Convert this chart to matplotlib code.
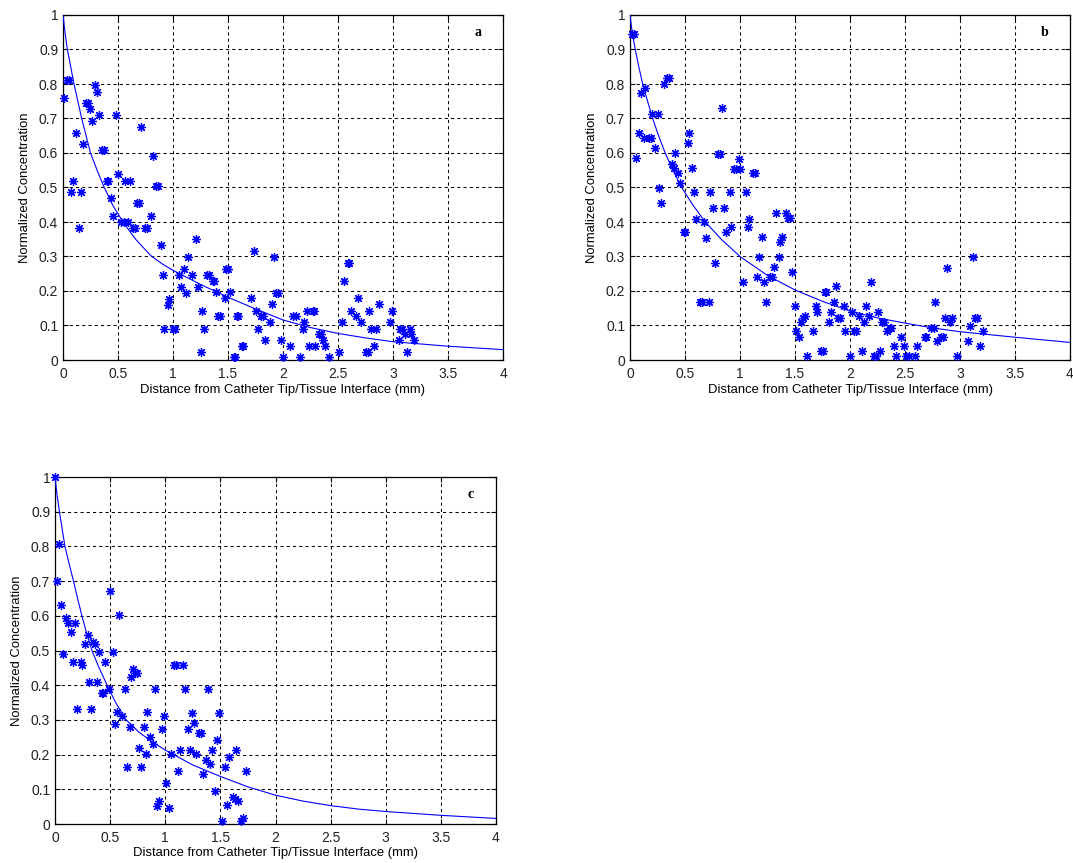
import matplotlib
matplotlib.use("Agg")
import matplotlib.pyplot as plt

plt.rcParams["font.family"] = ["Liberation Sans", "DejaVu Sans"]

# ---------------- panel a ----------------
a_x = [0.01, 0.04, 0.058, 0.076, 0.094, 0.118, 0.145, 0.16, 0.179, 0.212,
       0.228, 0.245, 0.264, 0.288, 0.31, 0.33, 0.35, 0.37, 0.397, 0.412,
       0.44, 0.457, 0.479, 0.50, 0.53, 0.55, 0.564, 0.59, 0.606, 0.64,
       0.655, 0.676, 0.69, 0.706, 0.742, 0.767, 0.80, 0.82, 0.845, 0.86,
       0.888, 0.905, 0.92, 0.95, 0.967, 1.0, 1.015, 1.05, 1.075, 1.10,
       1.12, 1.14, 1.17, 1.205, 1.225, 1.25, 1.267, 1.285, 1.31, 1.33,
       1.36, 1.37, 1.39, 1.41, 1.43, 1.47, 1.48, 1.50, 1.52, 1.55,
       1.56, 1.58, 1.595, 1.625, 1.64, 1.705, 1.735, 1.75, 1.775, 1.80,
       1.815, 1.835, 1.885, 1.90, 1.92, 1.94, 1.955, 1.98, 2.0, 2.065,
       2.095, 2.12, 2.15, 2.18, 2.195, 2.22, 2.235, 2.27, 2.28, 2.29,
       2.33, 2.345, 2.36, 2.385, 2.415, 2.51, 2.54, 2.55, 2.59, 2.60,
       2.62, 2.66, 2.68, 2.705, 2.75, 2.77, 2.785, 2.80, 2.83, 2.845,
       2.87, 2.97, 2.99, 3.05, 3.065, 3.08, 3.11, 3.125, 3.15, 3.165, 3.195]
a_y = [0.76, 0.812, 0.812, 0.487, 0.519, 0.658, 0.382, 0.487, 0.625, 0.746,
       0.746, 0.728, 0.693, 0.796, 0.778, 0.71, 0.608, 0.608, 0.52, 0.52,
       0.47, 0.417, 0.71, 0.538, 0.40, 0.40, 0.519, 0.40, 0.519, 0.382,
       0.382, 0.454, 0.454, 0.676, 0.382, 0.382, 0.417, 0.59, 0.505, 0.505,
       0.332, 0.247, 0.091, 0.16, 0.178, 0.091, 0.091, 0.247, 0.213, 0.264,
       0.194, 0.298, 0.247, 0.351, 0.212, 0.024, 0.142, 0.091, 0.247, 0.247,
       0.23, 0.23, 0.196, 0.128, 0.128, 0.18, 0.264, 0.264, 0.196, 0.008,
       0.008, 0.128, 0.128, 0.04, 0.04, 0.18, 0.315, 0.143, 0.091, 0.128,
       0.128, 0.058, 0.109, 0.161, 0.298, 0.195, 0.195, 0.058, 0.008, 0.04,
       0.128, 0.128, 0.008, 0.091, 0.109, 0.142, 0.04, 0.142, 0.142, 0.04,
       0.075, 0.075, 0.058, 0.04, 0.008, 0.024, 0.109, 0.23, 0.28, 0.28,
       0.142, 0.128, 0.18, 0.109, 0.024, 0.024, 0.142, 0.091, 0.04, 0.091,
       0.161, 0.109, 0.142, 0.058, 0.091, 0.091, 0.075, 0.024, 0.091, 0.075, 0.058]
a_fit_x = [0, 0.02, 0.04, 0.07, 0.10, 0.135, 0.17, 0.21, 0.25, 0.31, 0.375,
           0.45, 0.545, 0.66, 0.80, 0.90, 1.0, 1.25, 1.5, 1.75, 2.0, 2.25,
           2.5, 2.75, 3.0, 3.5, 4.0]
a_fit_y = [1.0, 0.945, 0.90, 0.85, 0.80, 0.75, 0.70, 0.65, 0.60, 0.55, 0.50,
           0.45, 0.40, 0.35, 0.302, 0.279, 0.26, 0.219, 0.182, 0.148, 0.116, 0.094,
           0.077, 0.064, 0.053, 0.040, 0.030]

# ---------------- panel b ----------------
b_x = [0.02, 0.035, 0.055, 0.085, 0.10, 0.124, 0.14, 0.17, 0.188, 0.20,
       0.23, 0.25, 0.26, 0.285, 0.312, 0.336, 0.35, 0.38, 0.397, 0.41,
       0.433, 0.45, 0.487, 0.50, 0.524, 0.54, 0.56, 0.58, 0.603, 0.635,
       0.65, 0.676, 0.69, 0.717, 0.73, 0.758, 0.77, 0.80, 0.818, 0.84,
       0.855, 0.876, 0.906, 0.92, 0.942, 0.96, 0.988, 1.003, 1.028, 1.05,
       1.073, 1.085, 1.115, 1.135, 1.15, 1.175, 1.198, 1.22, 1.24, 1.27,
       1.29, 1.307, 1.325, 1.35, 1.368, 1.386, 1.416, 1.437, 1.452, 1.473,
       1.50, 1.513, 1.534, 1.552, 1.573, 1.595, 1.613, 1.664, 1.69, 1.70,
       1.734, 1.752, 1.77, 1.785, 1.81, 1.83, 1.85, 1.873, 1.895, 1.913,
       1.943, 1.958, 1.997, 2.02, 2.04, 2.057, 2.08, 2.11, 2.124, 2.142,
       2.172, 2.193, 2.218, 2.233, 2.254, 2.275, 2.293, 2.312, 2.336, 2.36,
       2.375, 2.40, 2.42, 2.463, 2.487, 2.51, 2.535, 2.587, 2.61, 2.678,
       2.693, 2.738, 2.76, 2.777, 2.795, 2.83, 2.844, 2.86, 2.88, 2.905,
       2.928, 2.97, 3.07, 3.09, 3.116, 3.14, 3.156, 3.183, 3.207]
b_y = [0.944, 0.944, 0.586, 0.658, 0.773, 0.643, 0.788, 0.643, 0.643, 0.713,
       0.615, 0.713, 0.499, 0.456, 0.80, 0.816, 0.816, 0.569, 0.556, 0.60,
       0.542, 0.513, 0.372, 0.372, 0.629, 0.658, 0.557, 0.486, 0.41, 0.168,
       0.168, 0.40, 0.355, 0.168, 0.486, 0.44, 0.28, 0.598, 0.598, 0.73,
       0.44, 0.372, 0.486, 0.385, 0.555, 0.555, 0.584, 0.555, 0.226, 0.486,
       0.385, 0.41, 0.543, 0.543, 0.242, 0.298, 0.356, 0.226, 0.168, 0.242,
       0.242, 0.27, 0.427, 0.298, 0.341, 0.356, 0.427, 0.413, 0.413, 0.255,
       0.157, 0.085, 0.068, 0.11, 0.123, 0.128, 0.011, 0.085, 0.157, 0.14,
       0.027, 0.027, 0.198, 0.198, 0.11, 0.14, 0.168, 0.214, 0.123, 0.123,
       0.157, 0.085, 0.011, 0.14, 0.085, 0.085, 0.128, 0.027, 0.109, 0.157,
       0.128, 0.226, 0.011, 0.011, 0.14, 0.027, 0.11, 0.11, 0.085, 0.094,
       0.094, 0.04, 0.011, 0.068, 0.04, 0.011, 0.011, 0.011, 0.04, 0.068,
       0.068, 0.094, 0.094, 0.168, 0.054, 0.068, 0.068, 0.123, 0.267, 0.11,
       0.123, 0.011, 0.054, 0.099, 0.298, 0.123, 0.123, 0.04, 0.085]
b_fit_x = [0, 0.02, 0.048, 0.08, 0.115, 0.16, 0.206, 0.26, 0.32, 0.39, 0.47,
           0.57, 0.685, 0.83, 1.0, 1.25, 1.5, 1.75, 2.0, 2.25, 2.5, 2.75,
           3.0, 3.5, 4.0]
b_fit_y = [1.0, 0.95, 0.90, 0.85, 0.80, 0.75, 0.70, 0.65, 0.60, 0.55, 0.50,
           0.45, 0.40, 0.35, 0.30, 0.245, 0.203, 0.17, 0.142, 0.122, 0.107,
           0.093, 0.082, 0.066, 0.051]

# ---------------- panel c ----------------
c_x = [0.0, 0.018, 0.037, 0.055, 0.076, 0.098, 0.122, 0.143, 0.159, 0.183,
       0.204, 0.232, 0.244, 0.268, 0.30, 0.311, 0.326, 0.345, 0.36, 0.381,
       0.396, 0.427, 0.436, 0.457, 0.488, 0.497, 0.527, 0.548, 0.564, 0.585,
       0.604, 0.634, 0.657, 0.676, 0.686, 0.705, 0.722, 0.74, 0.764, 0.776,
       0.804, 0.823, 0.838, 0.864, 0.889, 0.909, 0.923, 0.945, 0.97, 0.99,
       1.007, 1.033, 1.055, 1.077, 1.095, 1.117, 1.133, 1.158, 1.183, 1.202,
       1.22, 1.246, 1.264, 1.283, 1.308, 1.327, 1.346, 1.368, 1.39, 1.408,
       1.427, 1.455, 1.47, 1.49, 1.515, 1.54, 1.556, 1.574, 1.615, 1.634,
       1.643, 1.66, 1.69, 1.706, 1.73]
c_y = [1.0, 0.70, 0.808, 0.63, 0.489, 0.595, 0.58, 0.552, 0.466, 0.58,
       0.331, 0.466, 0.458, 0.518, 0.545, 0.408, 0.331, 0.525, 0.518, 0.408,
       0.497, 0.378, 0.378, 0.466, 0.39, 0.671, 0.495, 0.287, 0.322, 0.602,
       0.31, 0.39, 0.163, 0.28, 0.425, 0.446, 0.434, 0.436, 0.22, 0.163,
       0.28, 0.202, 0.322, 0.252, 0.23, 0.39, 0.053, 0.065, 0.273, 0.312,
       0.117, 0.045, 0.202, 0.457, 0.457, 0.154, 0.213, 0.457, 0.388, 0.273,
       0.213, 0.319, 0.29, 0.202, 0.261, 0.261, 0.144, 0.184, 0.388, 0.173,
       0.213, 0.096, 0.242, 0.319, 0.01, 0.163, 0.055, 0.194, 0.077, 0.071,
       0.213, 0.065, 0.01, 0.016, 0.154]
c_fit_x = [0, 0.02, 0.04, 0.065, 0.09, 0.128, 0.168, 0.205, 0.244, 0.287,
           0.335, 0.40, 0.473, 0.55, 0.646, 0.76, 0.88, 1.0, 1.25, 1.5, 1.75,
           2.0, 2.25, 2.5, 2.75, 3.0, 3.5, 4.0]
c_fit_y = [1.0, 0.945, 0.90, 0.85, 0.80, 0.75, 0.70, 0.65, 0.60, 0.55, 0.50,
           0.45, 0.40, 0.35, 0.30, 0.265, 0.237, 0.213, 0.17, 0.137, 0.107,
           0.083, 0.066, 0.053, 0.043, 0.036, 0.025, 0.016]

x_ticks = [0, 0.5, 1, 1.5, 2, 2.5, 3, 3.5, 4]
x_tick_labels = ["0", "0.5", "1", "1.5", "2", "2.5", "3", "3.5", "4"]
y_ticks = [0, 0.1, 0.2, 0.3, 0.4, 0.5, 0.6, 0.7, 0.8, 0.9, 1]
y_tick_labels = ["0", "0.1", "0.2", "0.3", "0.4", "0.5", "0.6", "0.7", "0.8", "0.9", "1"]

x_label = "Distance from Catheter Tip/Tissue Interface (mm)"
y_label = "Normalized Concentration"

W, H = 1073, 863
fig = plt.figure(figsize=(W / 100, H / 100), dpi=100)
fig.patch.set_facecolor("white")


def px_axes(left, right, top, bottom):
    return fig.add_axes([left / W, 1 - bottom / H, (right - left) / W, (bottom - top) / H])


asterisk = (8, 2, 0)


def draw_panel(ax, xs, ys, fx, fy, letter):
    ax.set_xlim(0, 4)
    ax.set_ylim(0, 1)
    ax.set_xticks(x_ticks)
    ax.set_xticklabels(x_tick_labels)
    ax.set_yticks(y_ticks)
    ax.set_yticklabels(y_tick_labels)
    ax.tick_params(direction="in", length=3.6, width=0.8, top=True, right=True,
                   labelsize=10, colors="black", labelcolor="#222222")
    ax.tick_params(axis="x", pad=5)
    ax.tick_params(axis="y", pad=3.5)
    ax.grid(True, color="black", linestyle=(0, (3.0, 3.0)), linewidth=0.75)
    ax.set_axisbelow(True)
    for s in ax.spines.values():
        s.set_color("black")
        s.set_linewidth(0.9)
    ax.plot(fx, fy, color="#0000ff", linewidth=0.8, zorder=3)
    ax.plot(xs, ys, linestyle="none", marker=asterisk, markersize=6.5,
            markeredgewidth=0.9, color="#0000ff", zorder=4, clip_on=False)
    ax.set_xlabel(x_label, fontsize=9.4, ha="center", va="center")
    ax.set_ylabel(y_label, fontsize=9.4, ha="center", va="center")
    ax.text(3.77, 0.95, letter, fontsize=10, fontweight="bold",
            family=["Liberation Serif", "DejaVu Serif"], ha="center", va="center")


ax_a = px_axes(63, 503, 15, 360)
draw_panel(ax_a, a_x, a_y, a_fit_x, a_fit_y, "a")
ax_a.xaxis.set_label_coords(0.5, -30 / 345)
ax_a.yaxis.set_label_coords(-38 / 440, 0.5)

ax_b = px_axes(630, 1070, 15, 360)
draw_panel(ax_b, b_x, b_y, b_fit_x, b_fit_y, "b")
ax_b.xaxis.set_label_coords(0.5, -30 / 345)
ax_b.yaxis.set_label_coords(-38 / 440, 0.5)

ax_c = px_axes(55, 496, 477, 824)
draw_panel(ax_c, c_x, c_y, c_fit_x, c_fit_y, "c")
ax_c.xaxis.set_label_coords(0.5, -29 / 347)
ax_c.yaxis.set_label_coords(-38 / 441, 0.5)

fig.savefig("out.png", dpi=100, facecolor="white")
